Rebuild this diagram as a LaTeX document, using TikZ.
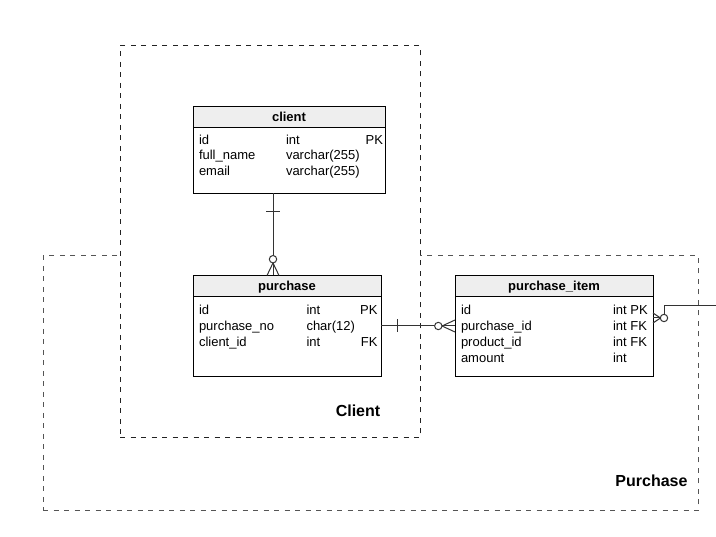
\documentclass[tikz,border=0pt]{standalone}
\usepackage{fontspec}
\setmainfont{Liberation Sans}
\usetikzlibrary{calc}
\definecolor{hdrgray}{HTML}{EEEEEE}
\definecolor{relgray}{HTML}{333333}
\definecolor{grpgray}{HTML}{555555}
\definecolor{grpdark}{HTML}{222222}
\tikzset{
  box/.style={draw=black, line width=1pt, fill=white, anchor=north west, outer sep=0pt, inner sep=0pt},
  hdr/.style={box, fill=hdrgray, text height=9.4pt, text depth=0pt, font=\fontsize{13}{15}\selectfont\bfseries},
  txt/.style={inner sep=0pt, outer sep=0pt, anchor=base west, font=\fontsize{13}{15}\selectfont},
  rtxt/.style={txt, anchor=base east},
  grpbox/.style={anchor=north west, outer sep=0pt, inner sep=0pt, line width=1pt, dash pattern=on 5pt off 5.5pt},
  grplabel/.style={inner sep=0pt, outer sep=0pt, font=\fontsize{16}{18}\selectfont\bfseries},
  rel/.style={draw=relgray, line width=1pt},
  ring/.style={draw=relgray, line width=1pt, fill=white}
}
\begin{document}
\begin{tikzpicture}[x=1pt,y=-1pt]
\useasboundingbox[fill=white] (0,0) rectangle (716,537);

% groups
\node (grpPurchase) [grpbox, draw=grpgray, minimum width=655, minimum height=255] at (43,256) {};
\node (grpClient) [grpbox, draw=grpdark, fill=white, minimum width=300, minimum height=392] at (120,46) {};
\node (lblClient) [grplabel, anchor=base] at (358,416.5) {Client};
\node (lblPurchase) [grplabel, anchor=base east] at (687.5,486.5) {Purchase};

% client table
\node (client) [box, minimum width=192, minimum height=87] at (193,106.5) {};
\node (clientH) [hdr, minimum width=192, minimum height=21] at (193,106.5) {client};
\node (c1n) [txt] at (199,144.5) {id};
\node (c1t) [txt] at (286,144.5) {int};
\node (c1k) [rtxt] at (383,144.5) {PK};
\node (c2n) [txt] at (199,160) {full\_name};
\node (c2t) [txt] at (286,160) {varchar(255)};
\node (c3n) [txt] at (199,175.5) {email};
\node (c3t) [txt] at (286,175.5) {varchar(255)};

% purchase table
\node (purchase) [box, minimum width=188, minimum height=101] at (193,275.5) {};
\node (purchaseH) [hdr, minimum width=188, minimum height=21.5] at (193,275.5) {purchase};
\node (p1n) [txt] at (199,314.5) {id};
\node (p1t) [txt] at (306.5,314.5) {int};
\node (p1k) [rtxt] at (377.5,314.5) {PK};
\node (p2n) [txt] at (199,330.5) {purchase\_no};
\node (p2t) [txt] at (306.5,330.5) {char(12)};
\node (p3n) [txt] at (199,346.5) {client\_id};
\node (p3t) [txt] at (306.5,346.5) {int};
\node (p3k) [rtxt] at (377.5,346.5) {FK};

% purchase_item table
\node (pitem) [box, minimum width=198, minimum height=101] at (455,275.5) {};
\node (pitemH) [hdr, minimum width=198, minimum height=21.5] at (455,275.5) {purchase\_item};
\node (i1n) [txt] at (461,314.5) {id};
\node (i1t) [txt] at (613,314.5) {int PK};
\node (i2n) [txt] at (461,330.5) {purchase\_id};
\node (i2t) [txt] at (613,330.5) {int FK};
\node (i3n) [txt] at (461,346.5) {product\_id};
\node (i3t) [txt] at (613,346.5) {int FK};
\node (i4n) [txt] at (461,362.5) {amount};
\node (i4t) [txt] at (613,362.5) {int};

% relation client -> purchase
\coordinate (r1s) at ($(client.south west)+(80,0)$);
\coordinate (r1e) at ($(purchase.north west)+(80,0)$);
\draw[rel] (r1s) -- ($(r1e)+(0,-16)$);
\draw[rel] ($(r1s)+(-7,18)$) -- ++(14,0);
\draw[rel] ($(r1e)+(0,-12.5)$) -- ($(r1e)+(-6,0)$);
\draw[rel] ($(r1e)+(0,-12.5)$) -- (r1e);
\draw[rel] ($(r1e)+(0,-12.5)$) -- ($(r1e)+(6,0)$);
\draw[ring] ($(r1e)+(0,-16.3)$) circle[radius=3.7];

% relation purchase -> purchase_item
\coordinate (r2s) at (purchase.east);
\coordinate (r2e) at (pitem.west);
\draw[rel] (r2s) -- ($(r2e)+(-17,0)$);
\draw[rel] ($(r2s)+(16,-6.5)$) -- ++(0,13);
\draw[rel] ($(r2e)+(-13,0)$) -- ($(r2e)+(0,-6)$);
\draw[rel] ($(r2e)+(-13,0)$) -- (r2e);
\draw[rel] ($(r2e)+(-13,0)$) -- ($(r2e)+(0,6)$);
\draw[ring] ($(r2e)+(-16.7,0)$) circle[radius=3.7];

% relation purchase_item -> off-page
\coordinate (r3s) at ($(pitem.north east)+(0,42.5)$);
\coordinate (r3off) at (716,306);
\draw[rel] ($(r3s)+(7.5,0)$) -- ($(r3s)+(0,-5)$);
\draw[rel] ($(r3s)+(7.5,0)$) -- (r3s);
\draw[rel] ($(r3s)+(7.5,0)$) -- ($(r3s)+(0,5)$);
\draw[rel] ($(r3s)+(11,-3.7)$) |- (r3off);
\draw[ring] ($(r3s)+(11,0)$) circle[radius=3.7];
\end{tikzpicture}
\end{document}
